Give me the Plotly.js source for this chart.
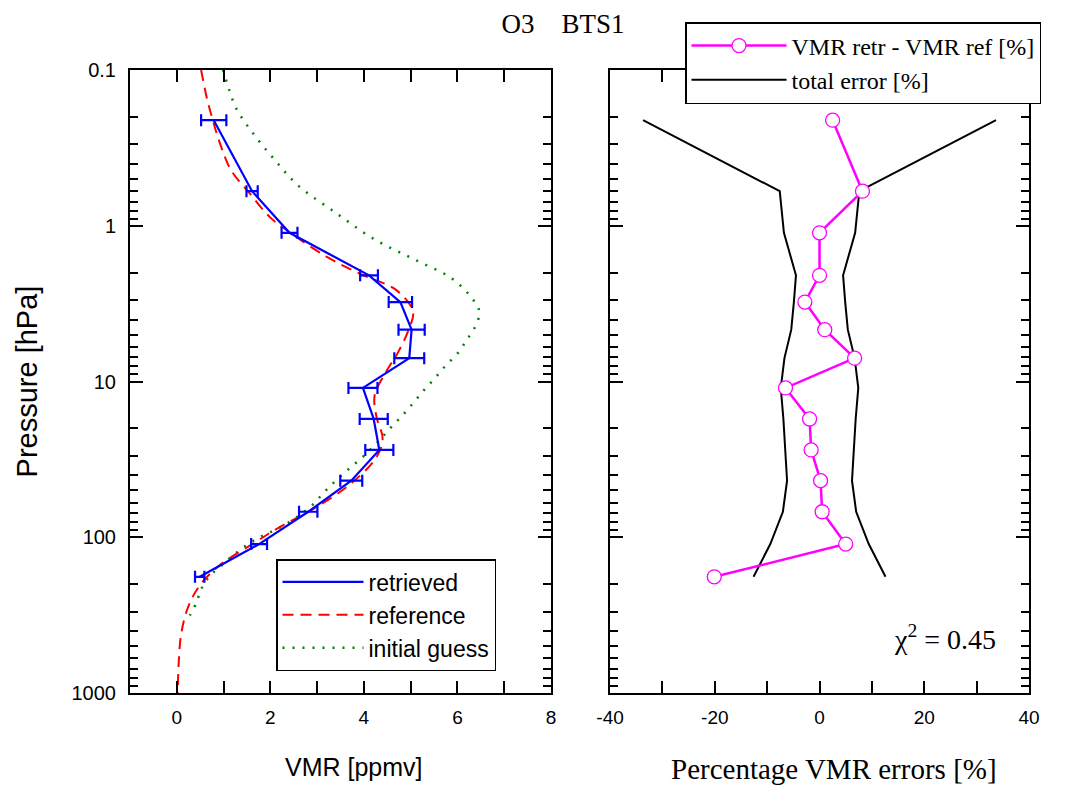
<!DOCTYPE html>
<html>
<head>
<meta charset="utf-8">
<script src="https://cdn.plot.ly/plotly-3.0.1.min.js"></script>
<style>html,body{margin:0;padding:0;background:#fff;}#chart{width:1072px;height:787px;}</style>
</head>
<body>
<div id="chart"></div>
<script>
// Pressure levels of the retrieval [hPa]
var levels = [0.21, 0.60, 1.11, 2.08, 3.09, 4.65, 7.08, 11.0, 17.4, 27.5, 43.3, 68.6, 110.6, 179.5];
// Retrieved VMR [ppmv] and its error bar
var retrieved = [0.79, 1.61, 2.41, 4.11, 4.78, 5.02, 4.97, 3.98, 4.21, 4.33, 3.73, 2.81, 1.76, 0.49];
var retrievedErr = [0.27, 0.12, 0.17, 0.19, 0.25, 0.28, 0.32, 0.31, 0.30, 0.30, 0.235, 0.196, 0.17, 0.10];
// Reference profile
var refP = [0.1, 0.15, 0.21, 0.3, 0.44, 0.62, 0.88, 1.1, 1.58, 2.03, 2.6, 3.57, 4.7, 6.5, 8.9, 12.3, 16.9, 23.3, 30.6, 45.8, 66, 86, 110, 152, 204, 282, 418, 650, 1000];
var refVMR = [0.52, 0.64, 0.77, 0.93, 1.16, 1.56, 1.99, 2.41, 3.2, 3.91, 4.7, 5.05, 4.95, 4.73, 4.45, 4.23, 4.27, 4.4, 4.27, 3.7, 2.91, 2.2, 1.63, 0.91, 0.49, 0.24, 0.094, 0.04, 0.02];
// Initial guess profile
var igP = [0.1, 0.12, 0.176, 0.255, 0.376, 0.55, 0.83, 1.21, 1.63, 2.18, 3.0, 3.6, 4.5, 5.4, 6.5, 7.9, 9.5, 11.4, 13.8, 16.8, 20.3, 25, 30.4, 36, 43, 51, 62, 72, 82, 91, 100, 111, 128, 149, 178, 216, 263, 318];
var igVMR = [0.99, 1.07, 1.27, 1.63, 2.09, 2.59, 3.41, 4.2, 5.05, 5.88, 6.34, 6.47, 6.37, 6.2, 6.02, 5.75, 5.52, 5.28, 5.05, 4.8, 4.54, 4.27, 3.98, 3.7, 3.41, 3.16, 2.9, 2.63, 2.34, 2.06, 1.77, 1.52, 1.24, 0.99, 0.70, 0.52, 0.42, 0.28];
// Right panel: percentage differences and total error
var pctDiff = [2.5, 8.2, 0.0, 0.0, -2.8, 1.0, 6.7, -6.5, -1.9, -1.6, 0.2, 0.5, 5.0, -20.1];
var totalErr = [33.7, 7.6, 6.8, 4.5, 4.9, 5.4, 6.7, 7.4, 6.9, 6.6, 6.2, 7.0, 9.4, 12.6];
// Tick labels
var pTickVals = [0.1, 1, 10, 100, 1000];
var pTickText = ['0.1', '1', '10', '100', '1000'];
var vmrTickVals = [0, 2, 4, 6, 8];
var vmrTickText = ['0', '2', '4', '6', '8'];
var pctTickVals = [-40, -20, 0, 20, 40];
var pctTickText = ['-40', '-20', '0', '20', '40'];
var chiText = '\u03C7<sup>2</sup> = 0.45';
var titleText = 'O3\u00a0\u00a0\u00a0\u00a0BTS1';
var xTitleLeft = 'VMR [ppmv]';
var xTitleRight = 'Percentage VMR errors [%]';
var yTitle = 'Pressure [hPa]';

var SANS = 'Liberation Sans, Arial, sans-serif';
var SERIF = 'Liberation Serif, Times New Roman, serif';

var errX = [], errY = [];
for (var i = 0; i < levels.length; i++) { errX.push(-totalErr[i]); errY.push(levels[i]); }
errX.push(null); errY.push(null);
for (var j = 0; j < levels.length; j++) { errX.push(totalErr[j]); errY.push(levels[j]); }

var traces = [
  {x: igVMR, y: igP, type: 'scatter', mode: 'lines', name: 'initial guess', legend: 'legend', legendrank: 3,
   line: {color: '#008000', width: 2.5, dash: '2px,8px', shape: 'spline'}, xaxis: 'x', yaxis: 'y'},
  {x: refVMR, y: refP, type: 'scatter', mode: 'lines', name: 'reference', legend: 'legend', legendrank: 2,
   line: {color: '#FF0000', width: 2, dash: '11px,7px', shape: 'spline'}, xaxis: 'x', yaxis: 'y'},
  {x: retrieved, y: levels, type: 'scatter', mode: 'lines', name: 'retrieved', legend: 'legend', legendrank: 1,
   line: {color: '#0000FF', width: 2.2},
   error_x: {type: 'data', array: retrievedErr, visible: true, color: '#0000FF', thickness: 2.2, width: 6},
   xaxis: 'x', yaxis: 'y'},
  {x: errX, y: errY, type: 'scatter', mode: 'lines', name: 'total error [%]', legend: 'legend2', legendrank: 2,
   line: {color: '#000000', width: 2}, connectgaps: false, xaxis: 'x2', yaxis: 'y2'},
  {x: pctDiff, y: levels, type: 'scatter', mode: 'lines+markers', name: 'VMR retr - VMR ref [%]', legend: 'legend2', legendrank: 1,
   line: {color: '#FF00FF', width: 2.5},
   marker: {symbol: 'circle', size: 14, color: '#FFFFFF', line: {color: '#FF00FF', width: 1.3}},
   xaxis: 'x2', yaxis: 'y2'}
];

var tickFont = {family: SANS, size: 19, color: '#000'};
var commonX = {
  showgrid: false, zeroline: false, showline: true, linecolor: '#000', linewidth: 2,
  ticks: 'inside', ticklen: 12, tickwidth: 2, tickcolor: '#000', mirror: 'allticks',
  tickfont: tickFont, fixedrange: true, ticklabelstandoff: 6, tickmode: 'array'
};
var commonY = {
  type: 'log', range: [3, -1], showgrid: false, zeroline: false, showline: true, linecolor: '#000', linewidth: 2,
  ticks: 'inside', ticklen: 13, tickwidth: 2, tickcolor: '#000', mirror: 'allticks',
  tickmode: 'array', tickvals: pTickVals, ticktext: pTickText,
  minor: {ticks: 'inside', ticklen: 8, tickwidth: 2, tickcolor: '#000', dtick: 'D1', showgrid: false},
  tickfont: {family: SANS, size: 20, color: '#000'}, fixedrange: true
};

var layout = {
  width: 1072, height: 787,
  margin: {l: 130, r: 43, t: 70, b: 94},
  paper_bgcolor: '#fff', plot_bgcolor: '#fff',
  showlegend: true,
  title: {text: titleText, x: 563/1072, y: 1 - 24/787, xanchor: 'center', yanchor: 'middle',
          font: {family: SERIF, size: 27, color: '#000'}},
  xaxis: Object.assign({}, commonX, {
    domain: [0, 0.4683], range: [-1, 8], tickvals: vmrTickVals, ticktext: vmrTickText, anchor: 'y',
    minor: {ticks: 'inside', ticklen: 12, tickwidth: 2, tickcolor: '#000', dtick: 1, tick0: 0, showgrid: false}
  }),
  yaxis: Object.assign({}, commonY, {
    domain: [0, 1], anchor: 'x', ticklabelstandoff: 8,
    title: {text: yTitle, font: {family: SANS, size: 29, color: '#000'}, standoff: 25}
  }),
  xaxis2: Object.assign({}, commonX, {
    domain: [0.534, 1], range: [-40, 40], tickvals: pctTickVals, ticktext: pctTickText, anchor: 'y2',
    minor: {ticks: 'inside', ticklen: 12, tickwidth: 2, tickcolor: '#000', dtick: 10, tick0: 0, showgrid: false}
  }),
  yaxis2: Object.assign({}, commonY, {
    domain: [0, 1], anchor: 'x2', showticklabels: false, matches: 'y'
  }),
  legend: {
    x: (276 - 130) / 899, y: (693 - 559) / 623, xanchor: 'left', yanchor: 'top',
    bgcolor: '#fff', bordercolor: '#000', borderwidth: 1.5,
    font: {family: SANS, size: 23, color: '#000'}, itemwidth: 81, traceorder: 'normal'
  },
  legend2: {
    x: (685 - 130) / 899, y: (693 - 22) / 623, xanchor: 'left', yanchor: 'top',
    bgcolor: '#fff', bordercolor: '#000', borderwidth: 1.5,
    font: {family: SERIF, size: 24, color: '#000'}, itemwidth: 95, traceorder: 'normal'
  },
  annotations: [
    {text: chiText, xref: 'paper', yref: 'paper', x: (998 - 130) / 899, y: (693 - 637) / 623,
     xanchor: 'right', yanchor: 'middle', showarrow: false,
     font: {family: SERIF, size: 28, color: '#000'}},
    {text: xTitleLeft, xref: 'paper', yref: 'paper', x: (354 - 130) / 899, y: (693 - 767) / 623,
     xanchor: 'center', yanchor: 'middle', showarrow: false,
     font: {family: SANS, size: 25, color: '#000'}},
    {text: xTitleRight, xref: 'paper', yref: 'paper', x: (834 - 130) / 899, y: (693 - 769) / 623,
     xanchor: 'center', yanchor: 'middle', showarrow: false,
     font: {family: SERIF, size: 29, color: '#000'}}
  ]
};

Plotly.newPlot('chart', traces, layout, {displayModeBar: false, staticPlot: true});
</script>
</body>
</html>
